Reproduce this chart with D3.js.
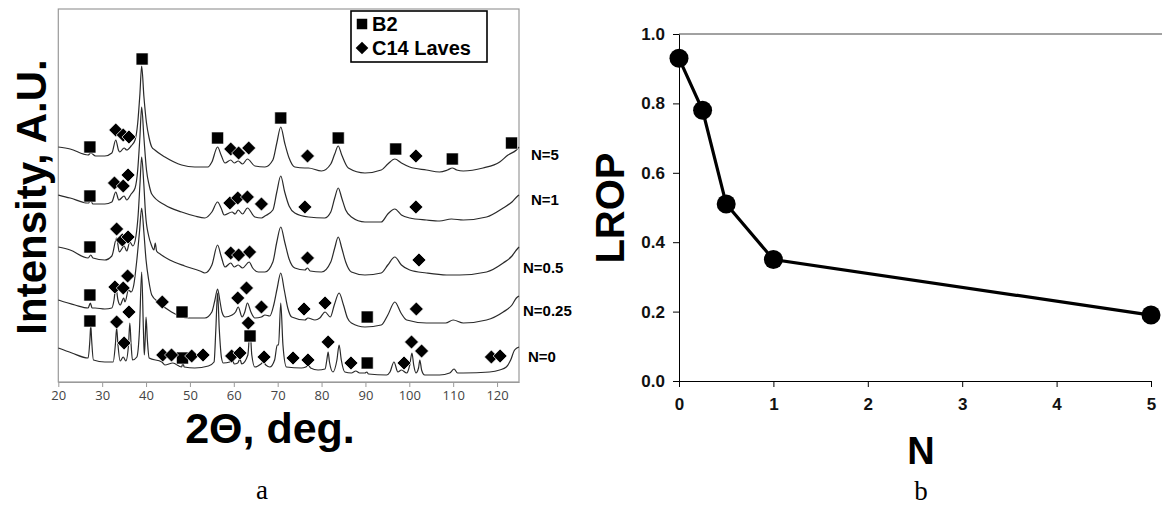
<!DOCTYPE html>
<html>
<head>
<meta charset="utf-8">
<script src="https://cdn.jsdelivr.net/npm/d3@7"></script>
<style>
    body { margin: 0; background: #fff; }
    text { font-family: "Liberation Sans", Arial, sans-serif; }
</style>
</head>
<body>
<div id="chart"></div>
<script>
// ---------- data: XRD patterns (2theta, intensity A.U., stacked) ----------
var seriesLabels = ["N=5", "N=1", "N=0.5", "N=0.25", "N=0"];

var xrdN5 = [[20,235],[22.7,233],[26.8,227],[27.4,229],[28.5,226],[30.6,226],[32.2,229],[33.1,242],[33.7,232],[34.0,230],[35.0,234],[35.6,232],[36.6,236],[37.5,242],[38.1,259],[38.6,288],[39.0,316],[39.5,286],[40.1,259],[40.7,244],[41.3,235],[42.0,232],[44.3,225],[48.1,217],[51.1,215],[54.1,215],[55.0,220],[56.3,235],[57.1,227],[58.0,219],[59.3,222],[60.1,219],[61.0,221],[62.0,218],[63.1,223],[64.8,216],[67.1,215],[68.9,222],[69.8,239],[70.7,255],[71.6,239],[72.6,224],[73.9,215],[76.2,214],[77.0,214],[80.0,211],[82.1,218],[83.0,228],[83.8,236],[84.6,227],[86.1,214],[89.9,209],[93.6,212],[95.1,218],[96.7,223],[98.2,219],[100.1,215],[103.9,212],[106.9,210],[108.7,212],[109.8,214],[110.8,212],[112.3,211],[116.8,214],[120.6,220],[122.5,227],[124.4,232],[125,235]];

var xrdN1 = [[20,187],[22.7,184],[26.8,179],[27.4,181],[27.9,178],[30.6,178],[32.2,180],[33.1,190],[33.8,182],[35.0,186],[35.6,182],[36.6,188],[37.5,194],[38.1,212],[38.6,245],[39.0,275],[39.5,245],[40.1,212],[40.7,197],[41.3,188],[44.3,177],[48.1,170],[51.1,166],[53.4,164],[55.0,170],[56.3,180],[57.1,174],[57.8,167],[59.6,170],[60.3,168],[61.0,172],[62.0,168],[63.1,174],[64.8,165],[66.3,164],[67.1,166],[68.9,172],[69.8,190],[70.7,206],[71.6,190],[72.6,176],[73.9,169],[77.0,165],[80.7,164],[82.1,170],[83.0,184],[83.8,194],[84.6,184],[85.5,172],[86.8,165],[89.9,160],[93.6,160],[95.1,168],[96.7,173],[98.2,167],[100.1,164],[103.9,162],[106.9,161],[109.6,163],[112.3,162],[117.6,165],[121.4,174],[123.4,180],[124.7,186],[125,187]];

var xrdN05 = [[20,135],[22.7,132],[26.8,124],[27.4,127],[27.9,124],[30.6,122],[32.2,126],[33.3,144],[33.9,130],[35.0,136],[35.6,131],[36.3,140],[37.0,136],[37.7,146],[38.2,167],[38.6,197],[39.0,225],[39.5,197],[39.9,167],[40.6,146],[41.2,137],[41.8,132],[42.1,139],[42.4,131],[43.2,128],[45.4,122],[48.8,116],[52.3,111],[53.4,109],[55.0,117],[56.3,137],[57.1,126],[58.0,115],[59.3,119],[60.1,115],[61.0,117],[62.0,114],[63.5,120],[64.3,114],[65.6,110],[67.1,110],[68.9,120],[69.8,140],[70.7,155],[71.6,140],[72.6,123],[73.9,114],[76.2,112],[76.8,114],[77.4,111],[80.0,110],[82.1,120],[83.0,134],[83.8,145],[84.6,134],[85.5,120],[86.8,110],[89.9,107],[93.6,109],[95.1,117],[96.7,125],[98.2,117],[100.1,112],[103.9,109],[108.5,107],[111.5,107],[117.6,110],[121.4,119],[123.4,126],[124.4,132],[125,135]];

var xrdN025 = [[20,82],[23.8,77],[26.8,74],[27.3,79],[27.7,74],[28.4,74],[30.6,73],[32.2,74],[32.7,82],[33.1,95],[33.6,82],[34.1,77],[34.9,84],[35.2,80],[36.0,92],[36.6,90],[37.2,97],[37.9,122],[38.5,150],[39.0,174],[39.5,150],[40.0,122],[40.6,102],[41.3,87],[42.8,80],[45.8,70],[49.6,64],[53.4,64],[55.0,70],[55.7,82],[56.3,93],[56.8,82],[57.3,70],[58.0,65],[59.6,67],[60.4,70],[61.0,75],[61.9,65],[62.5,70],[63.1,79],[63.9,70],[64.8,64],[66.3,65],[67.1,67],[68.2,66],[69.1,77],[69.9,94],[70.7,109],[71.5,92],[72.3,74],[73.2,65],[76.2,62],[76.9,64],[78.5,62],[79.6,64],[80.8,70],[82.0,65],[82.9,77],[84.0,89],[85.0,77],[85.9,64],[86.8,59],[89.9,55],[93.6,57],[95.1,67],[96.7,80],[98.1,69],[99.4,62],[103.9,59],[108.3,59],[110.0,62],[112.3,59],[117.6,62],[121.4,70],[123.4,77],[124.4,84],[125,86]];

var xrdN0 = [[20,34],[23.1,29],[26.8,24],[27.2,42],[27.4,57],[27.6,42],[28.0,22],[30.6,20],[32.5,20],[33.0,37],[33.3,54],[33.6,37],[34.1,21],[34.8,25],[35.4,21],[36.0,37],[36.3,59],[36.6,37],[36.9,22],[37.9,25],[38.5,52],[39.0,110],[39.4,52],[39.6,27],[39.8,42],[40.0,65],[40.3,42],[40.7,24],[43.6,20],[44.3,17],[46.1,19],[48.1,15],[48.4,19],[48.7,15],[51.1,14],[54.2,16],[55.5,20],[55.9,52],[56.3,89],[56.7,52],[57.2,24],[57.6,19],[59.1,20],[59.6,24],[60.1,18],[60.9,19],[61.4,23],[61.8,18],[63.2,27],[63.7,52],[64.1,27],[64.8,15],[66.2,18],[66.7,20],[67.3,17],[68.2,15],[69.3,22],[69.9,37],[70.2,37],[70.7,79],[71.2,37],[72.0,15],[75.4,14],[76.4,15],[77.0,17],[77.5,14],[79.2,12],[80.8,13],[81.2,22],[81.5,30],[81.8,20],[82.6,10],[83.5,22],[84.0,37],[84.5,22],[85.3,10],[86.8,9],[87.8,11],[88.7,9],[89.9,9],[90.3,10],[90.7,8],[94.8,7],[95.6,10],[96.5,20],[97.4,10],[98.2,12],[99.4,9],[100.1,17],[100.6,29],[101.0,17],[101.5,9],[102.1,14],[102.4,22],[102.8,12],[103.5,7],[106.9,7],[109.2,9],[110.2,13],[111.0,9],[112.3,9],[118.3,10],[120.6,12],[122.1,15],[123.1,22],[124.0,32],[125,35]];

// phase markers (2theta, intensity where marker sits)
var b2N5 = [[27.2,235],[39.1,323],[56.3,244],[70.7,264],[83.8,244],[96.9,233],[109.8,223],[123.3,239]];
var c14N5 = [[33.1,252],[34.8,247],[36.1,245],[59.3,233],[61.1,229],[63.4,234],[76.8,226],[101.5,226]];
var b2N1 = [[27.2,186]];
var c14N1 = [[32.8,199],[34.8,196],[35.9,207],[59.1,179],[60.9,184],[63.1,185],[66.3,178],[76.2,175],[101.5,175]];
var b2N05 = [[27.2,135]];
var c14N05 = [[33.3,153],[34.6,142],[35.9,145],[59.3,129],[61.1,127],[63.6,130],[76.8,124],[102.2,122]];
var b2N025 = [[27.2,87],[48.2,70],[90.4,65]];
var c14N025 = [[32.9,95],[34.8,94],[35.8,106],[43.7,80],[60.9,84],[62.9,94],[66.3,75],[76.0,73],[80.8,79],[101.6,73]];
var b2N0 = [[27.2,61],[48.3,24],[63.7,46],[90.4,19]];
var c14N0 = [[33.3,60],[36.1,70],[35.0,39],[43.8,27],[45.8,27],[50.4,26],[53.0,27],[59.5,26],[61.4,29],[63.3,59],[66.9,25],[73.5,24],[76.9,22],[81.5,40],[86.7,19],[98.8,19],[100.5,40],[102.8,31],[118.7,25],[120.7,26]];

var xTicksA = [20, 30, 40, 50, 60, 70, 80, 90, 100, 110, 120];

// ---------- data: LROP vs N ----------
var nValues = [0, 0.25, 0.5, 1, 5];
var lropValues = [0.93, 0.78, 0.51, 0.35, 0.19];
var xTicksB = [0, 1, 2, 3, 4, 5];
var yTicksB = [0, 0.2, 0.4, 0.6, 0.8, 1.0];

var svg = d3.select("#chart").append("svg")
    .attr("width", 1162)
    .attr("height", 509);

// ================= panel a =================
var xA = d3.scaleLinear().domain([20, 125]).range([58.3, 519]);
var yA = d3.scaleLinear().domain([0, 373]).range([382, 9]);

var traces = [xrdN5, xrdN1, xrdN05, xrdN025, xrdN0];
var b2Marks = [b2N5, b2N1, b2N05, b2N025, b2N0];
var c14Marks = [c14N5, c14N1, c14N05, c14N025, c14N0];

svg.append("rect")
    .attr("x", xA(20)).attr("y", yA(373))
    .attr("width", xA(125) - xA(20))
    .attr("height", yA(0) - yA(373))
    .attr("fill", "none")
    .attr("stroke", "#9a9a9a")
    .attr("stroke-width", 1.2);

var axA = svg.append("g")
    .attr("transform", "translate(0," + yA(0) + ")")
    .call(d3.axisBottom(xA).tickValues(xTicksA).tickSize(5).tickSizeOuter(0).tickPadding(4));
axA.select(".domain").attr("stroke", "#9a9a9a");
axA.selectAll(".tick line").attr("stroke", "#9a9a9a");
axA.selectAll(".tick text")
    .attr("fill", "#444")
    .style("font-size", "13px")
    .style("font-family", "'Open Sans', 'Liberation Sans', sans-serif");

var lineA = d3.line()
    .x(function (d) { return xA(d[0]); })
    .y(function (d) { return yA(d[1]); })
    .curve(d3.curveMonotoneX);

svg.selectAll(".trace")
    .data(traces)
    .enter().append("path")
    .attr("class", "trace")
    .attr("d", lineA)
    .attr("fill", "none")
    .attr("stroke", "#2a2a2a")
    .attr("stroke-width", 1.2);

var squareSym = d3.symbol().type(d3.symbolSquare).size(144);
var diamondSym = d3.symbol().type(d3.symbolSquare).size(98);

svg.selectAll(".b2")
    .data(d3.merge(b2Marks))
    .enter().append("path")
    .attr("class", "b2")
    .attr("d", squareSym)
    .attr("transform", function (d) { return "translate(" + xA(d[0]) + "," + yA(d[1]) + ")"; })
    .attr("fill", "#000")
    .attr("stroke", "#fff")
    .attr("stroke-width", 0.6);

svg.selectAll(".c14")
    .data(d3.merge(c14Marks))
    .enter().append("path")
    .attr("class", "c14")
    .attr("d", diamondSym)
    .attr("transform", function (d) { return "translate(" + xA(d[0]) + "," + yA(d[1]) + ") rotate(45)"; })
    .attr("fill", "#000")
    .attr("stroke", "#fff")
    .attr("stroke-width", 0.7);

// series labels at the right edge
var labelPos = [[531, 155], [531, 200], [523, 268], [523, 311], [528, 357]];
svg.selectAll(".nlab")
    .data(seriesLabels)
    .enter().append("text")
    .attr("class", "nlab")
    .attr("x", function (d, i) { return labelPos[i][0]; })
    .attr("y", function (d, i) { return labelPos[i][1]; })
    .attr("dy", "0.36em")
    .style("font-family", "'Liberation Sans Narrow', 'Liberation Sans', sans-serif")
    .style("font-size", "15px")
    .style("font-weight", "bold")
    .text(function (d) { return d; });

// legend
var leg = svg.append("g");
leg.append("rect")
    .attr("x", 351).attr("y", 11).attr("width", 136).attr("height", 51)
    .attr("fill", "#fff").attr("stroke", "#000").attr("stroke-width", 1.6);
leg.append("path").attr("d", d3.symbol().type(d3.symbolSquare).size(110))
    .attr("transform", "translate(362,24)");
leg.append("path").attr("d", d3.symbol().type(d3.symbolSquare).size(80))
    .attr("transform", "translate(362,48) rotate(45)");
leg.append("text").attr("x", 372).attr("y", 31)
    .style("font-size", "20px").style("font-weight", "bold").text("B2");
leg.append("text").attr("x", 372).attr("y", 55)
    .style("font-size", "20px").style("font-weight", "bold").text("C14 Laves");

svg.append("text")
    .attr("transform", "translate(46,197) rotate(-90)")
    .attr("text-anchor", "middle")
    .style("font-size", "42px").style("font-weight", "bold")
    .text("Intensity, A.U.");

svg.append("text")
    .attr("x", 270).attr("y", 443)
    .attr("text-anchor", "middle")
    .style("font-size", "43px").style("font-weight", "bold")
    .text("2\u0398, deg.");

svg.append("text")
    .attr("x", 262).attr("y", 499)
    .attr("text-anchor", "middle")
    .style("font-family", "'Liberation Serif', 'DejaVu Serif', serif")
    .style("font-size", "27px")
    .text("a");

// ================= panel b =================
var xB = d3.scaleLinear().domain([0, 5]).range([679, 1151]);
var yB = d3.scaleLinear().domain([0, 1]).range([381, 34]);

svg.append("line")
    .attr("x1", xB(0)).attr("x2", 1162)
    .attr("y1", yB(1)).attr("y2", yB(1))
    .attr("stroke", "#444").attr("stroke-width", 1);

var axBy = svg.append("g")
    .attr("transform", "translate(" + xB(0) + ",0)")
    .call(d3.axisLeft(yB).tickValues(yTicksB).tickFormat(d3.format(".1f")).tickSize(6).tickSizeOuter(0).tickPadding(8));
var axBx = svg.append("g")
    .attr("transform", "translate(0," + yB(0) + ")")
    .call(d3.axisBottom(xB).tickValues(xTicksB).tickFormat(d3.format("d")).tickSize(6).tickSizeOuter(0).tickPadding(11));
[axBy, axBx].forEach(function (g) {
    g.selectAll(".tick text")
        .style("font-size", "17px")
        .style("font-weight", "bold")
        .attr("fill", "#111");
});

var pts = nValues.map(function (n, i) { return [n, lropValues[i]]; });

svg.append("path")
    .datum(pts)
    .attr("d", d3.line()
        .x(function (d) { return xB(d[0]); })
        .y(function (d) { return yB(d[1]); }))
    .attr("fill", "none")
    .attr("stroke", "#000")
    .attr("stroke-width", 3.2);

svg.selectAll(".dot")
    .data(pts)
    .enter().append("circle")
    .attr("class", "dot")
    .attr("cx", function (d) { return xB(d[0]); })
    .attr("cy", function (d) { return yB(d[1]); })
    .attr("r", 9.5)
    .attr("fill", "#000");

svg.append("text")
    .attr("transform", "translate(624,208) rotate(-90)")
    .attr("text-anchor", "middle")
    .style("font-size", "40px").style("font-weight", "bold")
    .text("LROP");

svg.append("text")
    .attr("x", 921).attr("y", 464)
    .attr("text-anchor", "middle")
    .style("font-size", "38px").style("font-weight", "bold")
    .text("N");

svg.append("text")
    .attr("x", 921).attr("y", 500)
    .attr("text-anchor", "middle")
    .style("font-family", "'Liberation Serif', 'DejaVu Serif', serif")
    .style("font-size", "27px")
    .text("b");
</script>
</body>
</html>
